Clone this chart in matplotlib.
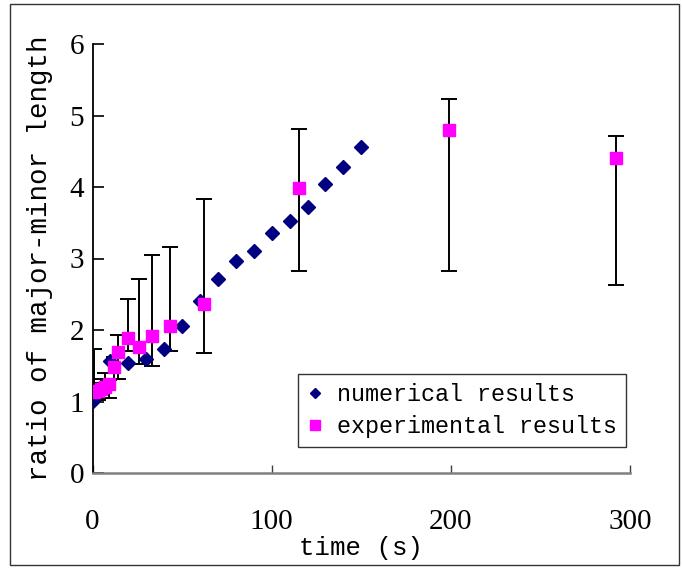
import matplotlib
matplotlib.use("Agg")
import matplotlib.pyplot as plt
from matplotlib.patches import Rectangle

# numerical results (navy diamonds)
num_t = [0, 10, 20, 30, 40, 50, 60, 70, 80, 90, 100, 110, 120, 130, 140, 150]
num_ratio = [1.01, 1.56, 1.54, 1.59, 1.73, 2.05, 2.41, 2.71, 2.96, 3.11, 3.35,
             3.53, 3.72, 4.04, 4.28, 4.56]

# experimental results (magenta squares) with min/max bars
exp_t = [1, 3, 5, 7, 9, 12, 14, 20, 26, 33, 43, 62, 115, 199, 292]
exp_ratio = [1.13, 1.15, 1.17, 1.20, 1.25, 1.48, 1.69, 1.89, 1.76, 1.92, 2.06,
             2.37, 3.99, 4.80, 4.41]
exp_low = [1.10, 1.02, 1.12, 1.20, 1.05, 1.31, 1.31, 1.70, 1.52, 1.49, 1.70,
           1.68, 2.83, 2.83, 2.63]
exp_high = [1.74, 1.26, 1.31, 1.40, 1.30, 1.62, 1.93, 2.43, 2.71, 3.05, 3.16,
            3.83, 4.81, 5.23, 4.72]

xticks = [0, 100, 200, 300]
yticks = [0, 1, 2, 3, 4, 5, 6]

mono = "Liberation Mono"
serif = "Liberation Serif"

fig = plt.figure(figsize=(6.82, 5.69), dpi=100)
ax = fig.add_axes([92.5 / 682, 1 - 473 / 569, (630 - 92.5) / 682, (473 - 44) / 569])

# outer frame of the chart
fig.patches.append(Rectangle((10 / 682, 4 / 569), 669 / 682, 561 / 569,
                             transform=fig.transFigure, fill=False,
                             edgecolor="#333333", linewidth=1.0))

yerr = [[r - lo for r, lo in zip(exp_ratio, exp_low)],
        [hi - r for r, hi in zip(exp_ratio, exp_high)]]
ax.errorbar(exp_t, exp_ratio, yerr=yerr, fmt="none", ecolor="black",
            elinewidth=1.4, capsize=5.5, capthick=1.4, zorder=2)
ax.plot(num_t, num_ratio, linestyle="none", marker="D", markersize=6.8,
        color="#000080", label="numerical results", zorder=3)
ax.plot(exp_t, exp_ratio, linestyle="none", marker="s", markersize=8.5,
        color="#ff00ff", label="experimental results", zorder=4)

ax.set_xlim(0, 300)
ax.set_ylim(0, 6)
ax.set_xticks(xticks)
ax.set_yticks(yticks)

for side in ["top", "right"]:
    ax.spines[side].set_visible(False)
ax.spines["left"].set_color("black")
ax.spines["left"].set_linewidth(1.3)
ax.spines["bottom"].set_color("#808080")
ax.spines["bottom"].set_linewidth(1.8)

ax.tick_params(axis="y", direction="in", length=8, width=1.2, color="black", pad=6)
ax.tick_params(axis="x", direction="in", length=6, width=1.0, color="#404040", pad=26)
for lab in ax.get_xticklabels() + ax.get_yticklabels():
    lab.set_fontfamily(serif)
    lab.set_fontsize(21)

ax.set_xlabel("time (s)", fontfamily=mono, fontsize=18.5, labelpad=1)
ax.set_ylabel("ratio of major-minor length", fontfamily=mono, fontsize=19.8,
              labelpad=12)

leg = ax.legend(loc="lower right", bbox_to_anchor=(0.9926, 0.0606),
                prop={"family": mono, "size": 16.8}, frameon=True, fancybox=False,
                handlelength=0.7, handletextpad=0.6, borderpad=0.38,
                labelspacing=0.4, borderaxespad=0, numpoints=1, markerscale=0.8)
leg.get_frame().set_edgecolor("black")
leg.get_frame().set_linewidth(1.0)

fig.savefig("out.png", dpi=100)
